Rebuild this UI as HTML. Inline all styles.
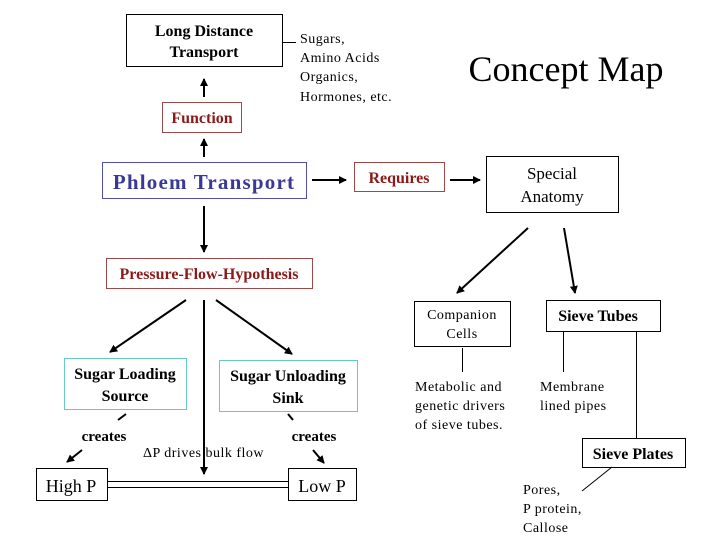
<!DOCTYPE html>
<html><head><meta charset="utf-8"><style>
html,body{margin:0;padding:0;background:#fff;}
svg{display:block;font-family:"Liberation Serif",serif;}
text{font-family:"Liberation Serif",serif;}
</style></head><body>
<svg width="720" height="540" viewBox="0 0 720 540" xmlns="http://www.w3.org/2000/svg" font-family="Liberation Serif, serif">
<defs>
<marker id="ah" markerWidth="8" markerHeight="8" refX="7" refY="4" orient="auto" markerUnits="userSpaceOnUse">
<path d="M0,0 L8,4 L0,8 z" fill="#000"/></marker>
</defs>
<g fill="none" stroke="#000" stroke-width="1">
<rect x="126.5" y="14.5" width="156" height="52"/>
<rect x="486.5" y="156.5" width="132" height="56"/>
<rect x="414.5" y="301.5" width="96" height="45"/>
<rect x="546.5" y="300.5" width="114" height="31"/>
<rect x="582.5" y="438.5" width="103" height="29"/>
<rect x="36.5" y="468.5" width="71" height="32"/>
<rect x="288.5" y="468.5" width="68" height="32"/>
</g>
<g fill="none" stroke="#a04848">
<rect x="162.5" y="102.5" width="79" height="30"/>
<rect x="354.5" y="162.5" width="90" height="29"/>
<rect x="106.5" y="258.5" width="206" height="30"/>
</g>
<rect x="102.5" y="162.5" width="204" height="36" fill="none" stroke="#5050a8"/>
<g fill="none" stroke="#66c8c8">
<rect x="64.5" y="358.5" width="122" height="51"/>
<rect x="219.5" y="360.5" width="138" height="51"/>
</g>
<g stroke="#000" stroke-width="2" fill="none">
<line x1="204" y1="97" x2="204" y2="79" marker-end="url(#ah)"/>
<line x1="204" y1="157" x2="204" y2="139" marker-end="url(#ah)"/>
<line x1="204" y1="206" x2="204" y2="252" marker-end="url(#ah)"/>
<line x1="312" y1="180" x2="346" y2="180" marker-end="url(#ah)"/>
<line x1="450" y1="180" x2="480" y2="180" marker-end="url(#ah)"/>
<line x1="528" y1="228" x2="457" y2="293" marker-end="url(#ah)"/>
<line x1="564" y1="228" x2="575" y2="293" marker-end="url(#ah)"/>
<line x1="186" y1="300" x2="110" y2="352" marker-end="url(#ah)"/>
<line x1="216" y1="300" x2="292" y2="354" marker-end="url(#ah)"/>
<line x1="204" y1="300" x2="204" y2="474" marker-end="url(#ah)"/>
<line x1="126" y1="414" x2="118" y2="420"/>
<line x1="82" y1="450" x2="67" y2="462" marker-end="url(#ah)"/>
<line x1="288" y1="414" x2="293" y2="420"/>
<line x1="313" y1="450" x2="324" y2="463" marker-end="url(#ah)"/>
</g>
<g stroke="#000" stroke-width="1" fill="none">
<line x1="282" y1="42.5" x2="296" y2="42.5"/>
<line x1="107" y1="481.5" x2="288" y2="481.5"/>
<line x1="107" y1="487.5" x2="288" y2="487.5"/>
<line x1="462.5" y1="348" x2="462.5" y2="372"/>
<line x1="563.5" y1="331" x2="563.5" y2="372"/>
<line x1="636.5" y1="331" x2="636.5" y2="438"/>
<line x1="612" y1="467" x2="582" y2="491"/>
</g>
<g font-size="16" text-anchor="middle" fill="#000" font-family="Liberation Serif, serif">
<text x="204" y="36" font-weight="bold">Long Distance</text>
<text x="204" y="57" font-weight="bold">Transport</text>
<text x="552" y="179" font-size="17">Special</text>
<text x="552" y="202" font-size="17">Anatomy</text>
<text x="125" y="379" font-weight="bold">Sugar Loading</text>
<text x="125" y="401" font-weight="bold">Source</text>
<text x="288" y="381" font-weight="bold">Sugar Unloading</text>
<text x="288" y="403" font-weight="bold">Sink</text>
<text x="71" y="492" font-size="18">High P</text>
<text x="322" y="492" font-size="18">Low P</text>
<text x="598" y="321" font-weight="bold">Sieve Tubes</text>
<text x="633" y="459" font-weight="bold">Sieve Plates</text>
<text x="104" y="441" font-weight="bold" font-size="15">creates</text>
<text x="314" y="441" font-weight="bold" font-size="15">creates</text>
</g>
<g font-size="14" fill="#000" letter-spacing="0.5" font-family="Liberation Serif, serif">
<text x="462" y="319" text-anchor="middle">Companion</text>
<text x="462" y="338" text-anchor="middle">Cells</text>
<text x="300" y="43">Sugars,</text>
<text x="300" y="62">Amino Acids</text>
<text x="300" y="81">Organics,</text>
<text x="300" y="101">Hormones, etc.</text>
<text x="415" y="391">Metabolic and</text>
<text x="415" y="410">genetic drivers</text>
<text x="415" y="429">of sieve tubes.</text>
<text x="540" y="391">Membrane</text>
<text x="540" y="410">lined pipes</text>
<text x="523" y="494">Pores,</text>
<text x="523" y="513">P protein,</text>
<text x="523" y="532">Callose</text>
<text x="143" y="457">ΔP drives bulk flow</text>
</g>
<text x="566" y="81" font-size="36" text-anchor="middle" font-family="Liberation Serif, serif">Concept Map</text>
<g font-weight="bold" fill="#8b1a1a" text-anchor="middle" font-size="16" font-family="Liberation Serif, serif">
<text x="202" y="123">Function</text>
<text x="399" y="183">Requires</text>
<text x="209" y="279">Pressure-Flow-Hypothesis</text>
</g>
<text x="204" y="189" font-size="21" font-weight="bold" fill="#3a3a96" text-anchor="middle" letter-spacing="1.2" font-family="Liberation Serif, serif">Phloem Transport</text>
</svg>
</body></html>
